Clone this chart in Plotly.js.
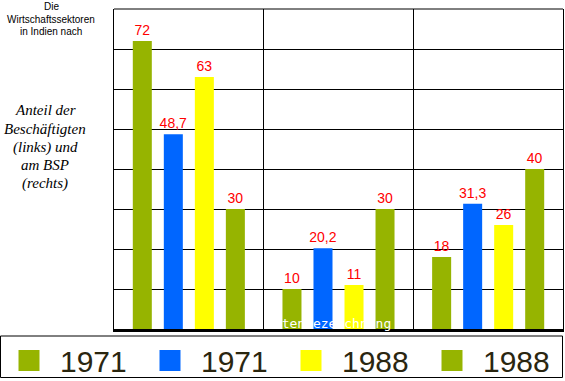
<!DOCTYPE html>
<html>
<head>
<meta charset="utf-8">
<script src="https://cdn.plot.ly/plotly-3.0.1.min.js"></script>
<style>html,body{margin:0;padding:0;background:#fff;}#chart{width:565px;height:381px;}</style>
</head>
<body>
<div id="chart"></div>
<script>
// Data
const sectors = ["Landwirtschaft", "Industrie", "Dienstleistungen"];
const besch1971 = [72, 10, 18];
const bsp1971 = [48.7, 20.2, 31.3];
const besch1988 = [63, 11, 26];
const bsp1988 = [30, 30, 40];
const seriesNames = ["1971", "1971", "1988", "1988"];
const seriesColors = ["#96b400", "#0066ff", "#ffff00", "#96b400"];
const allSeries = [besch1971, bsp1971, besch1988, bsp1988];

// geometry helpers
const W = 565, H = 381;
const M = {l: 114, r: 2, t: 9, b: 52, autoexpand: false};
const PW = W - M.l - M.r, PH = H - M.t - M.b;
const px = x => (x - M.l) / PW;
const py = y => (H - M.b - y) / PH;

const fmt = v => String(v).replace('.', ',');

const traces = [];
allSeries.forEach((vals, i) => {
  traces.push({
    type: 'bar',
    x: sectors,
    y: vals,
    name: seriesNames[i],
    marker: {color: seriesColors[i]},
    text: vals.map(fmt),
    textposition: 'outside',
    constraintext: 'none',
    textfont: {family: 'Liberation Sans, Arial, sans-serif', size: 14, color: '#ff0000'},
    cliponaxis: false,
    showlegend: false,
    hoverinfo: 'x+y'
  });
});
// legend entries
allSeries.forEach((vals, i) => {
  traces.push({
    type: 'scatter',
    mode: 'markers',
    x: [null],
    y: [null],
    name: seriesNames[i],
    marker: {symbol: 'square', size: 16, color: seriesColors[i], line: {width: 5, color: seriesColors[i]}},
    showlegend: true,
    hoverinfo: 'skip'
  });
});

const annotations = [
  {text: 'Die', x: px(51), y: py(7)},
  {text: 'Wirtschaftssektoren', x: px(51), y: py(19.5)},
  {text: 'in Indien nach', x: px(51), y: py(31.5)}
].map(a => Object.assign({xref: 'paper', yref: 'paper', showarrow: false, xanchor: 'center', yanchor: 'middle',
  font: {family: 'Liberation Sans, Arial, sans-serif', size: 10, color: '#000'}}, a));

const italicLines = ['Anteil der', 'Beschäftigten', '(links) und', 'am BSP', '(rechts)'];
const italicY = [110, 129, 147, 165, 183];
italicLines.forEach((t, i) => {
  annotations.push({text: t, x: px(45), y: py(italicY[i]), xref: 'paper', yref: 'paper', showarrow: false,
    xanchor: 'center', yanchor: 'middle',
    font: {family: 'Liberation Serif, Times New Roman, serif', size: 15, color: '#000', style: 'italic'}});
});
annotations.push({text: 'Datenbezeichnung', x: px(328), y: py(323.5), xref: 'paper', yref: 'paper', showarrow: false,
  xanchor: 'center', yanchor: 'middle', font: {family: 'DejaVu Sans Mono, monospace', size: 13, color: '#ffffff'}});

const layout = {
  width: W, height: H,
  margin: M,
  paper_bgcolor: '#ffffff',
  plot_bgcolor: '#ffffff',
  barmode: 'group',
  bargap: 0.171,
  bargroupgap: 0.387,
  showlegend: true,
  legend: {
    orientation: 'h',
    x: px(-2), xanchor: 'left',
    y: py(334.5), yanchor: 'top',
    itemwidth: 52,
    entrywidth: 74,
    itemsizing: 'trace',
    borderwidth: 0,
    bgcolor: 'rgba(0,0,0,0)',
    font: {family: 'Liberation Sans, Arial, sans-serif', size: 30, color: '#2a2610'}
  },
  xaxis: {
    type: 'category',
    tickson: 'boundaries',
    showgrid: true, gridcolor: '#000', gridwidth: 1,
    showticklabels: false, ticks: '',
    showline: true, linecolor: '#000', linewidth: 3,
    zeroline: false, fixedrange: true
  },
  yaxis: {
    range: [0, 80], dtick: 10, tick0: 0,
    showgrid: true, gridcolor: '#000', gridwidth: 1,
    showticklabels: false, ticks: '',
    showline: true, mirror: true, linecolor: '#000', linewidth: 1,
    zeroline: false, fixedrange: true
  },
  shapes: [
    {type: 'line', xref: 'paper', yref: 'paper', x0: 0, x1: 1, y0: 1, y1: 1, line: {color: '#000', width: 1}},
    {type: 'rect', xref: 'paper', yref: 'paper', x0: px(0.5), x1: px(562.5), y0: py(336), y1: py(377.5), line: {color: '#000', width: 1}}
  ],
  annotations: annotations
};

Plotly.newPlot('chart', traces, layout, {displayModeBar: false, staticPlot: true});
</script>
</body>
</html>
